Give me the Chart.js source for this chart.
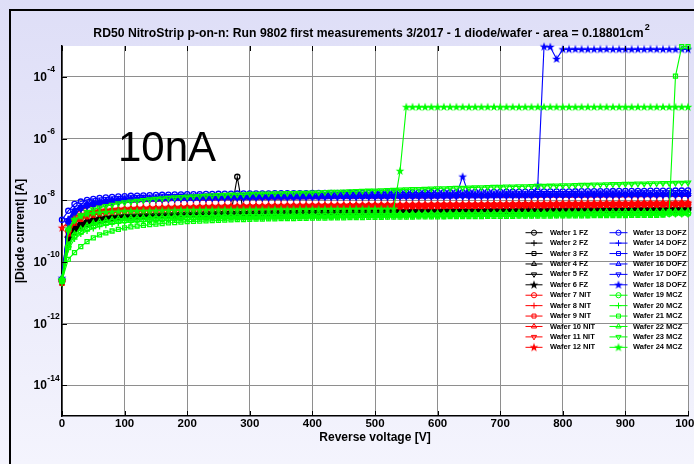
<!DOCTYPE html>
<html><head><meta charset="utf-8">
<script src="https://cdn.jsdelivr.net/npm/chart.js@4.4.1/dist/chart.umd.min.js"></script>
<style>html,body{margin:0;padding:0;background:#ececfa;}canvas{display:block}</style>
</head><body>
<canvas id="c" width="694" height="464"></canvas>
<script>
// ---------- DATA (currents in nA) ----------
const voltages = [0,10,20,30,40,50,60,70,80,90,100,110,120,130,140,150,160,170,180,190,200,210,220,230,240,250,260,270,280,290,300,310,320,330,340,350,360,370,380,390,400,410,420,430,440,450,460,470,480,490,500,510,520,530,540,550,560,570,580,590,600,610,620,630,640,650,660,670,680,690,700,710,720,730,740,750,760,770,780,790,800,810,820,830,840,850,860,870,880,890,900,910,920,930,940,950,960,970,980,990,1000];

const waferLabels = ['Wafer 1 FZ','Wafer 2 FZ','Wafer 3 FZ','Wafer 4 FZ','Wafer 5 FZ','Wafer 6 FZ',
  'Wafer 7 NIT','Wafer 8 NIT','Wafer 9 NIT','Wafer 10 NIT','Wafer 11 NIT','Wafer 12 NIT',
  'Wafer 13 DOFZ','Wafer 14 DOFZ','Wafer 15 DOFZ','Wafer 16 DOFZ','Wafer 17 DOFZ','Wafer 18 DOFZ',
  'Wafer 19 MCZ','Wafer 20 MCZ','Wafer 21 MCZ','Wafer 22 MCZ','Wafer 23 MCZ','Wafer 24 MCZ'];
const groupColors = ['#000000','#ff0000','#0000ff','#00ff00'];
const markerKinds = ['circle','plus','square','triangle','downtriangle','star'];

const wafer1 = [0.025,0.6,1.2,1.6,1.9,2.2,2.4,2.6,2.7,2.85,
3.0,3.05,3.1,3.2,3.25,3.3,3.35,3.4,3.45,3.5,
3.6,3.6,3.65,3.7,3.7,3.75,3.8,3.8,57,3.85,
3.9,3.9,3.95,4.0,4.0,4.0,4.05,4.1,4.1,4.1,
4.15,4.15,4.2,4.2,4.2,4.25,4.25,4.3,4.3,4.3,
4.3,4.35,4.35,4.4,4.4,4.4,4.45,4.45,4.5,4.5,
4.5,4.5,4.55,4.55,4.6,4.6,4.6,4.6,4.65,4.65,
4.6,4.7,4.7,4.7,4.75,4.75,4.8,4.8,4.8,4.8,
4.85,4.85,4.85,4.9,4.9,4.9,4.9,4.95,4.95,4.95,
4.95,5.0,5.0,5.0,5.0,5.05,5.05,5.05,5.1,5.1,
5.1];
const wafer2 = [0.02,0.5,1.0,1.4,1.7,2.0,2.2,2.4,2.5,2.65,
2.8,2.85,2.9,3.0,3.05,3.1,3.15,3.2,3.25,3.3,
3.4,3.4,3.45,3.5,3.5,3.55,3.6,3.6,3.65,3.65,
3.7,3.7,3.75,3.8,3.8,3.8,3.85,3.9,3.9,3.9,
3.95,3.95,4.0,4.0,4.0,4.05,4.05,4.1,4.1,4.1,
4.1,4.15,4.15,4.2,4.2,4.2,4.25,4.25,4.3,4.3,
4.3,4.3,4.35,4.35,4.4,4.4,4.4,4.4,4.45,4.45,
4.4,4.5,4.5,4.5,8.3,4.55,4.6,4.6,4.6,4.6,
4.65,4.65,4.65,4.7,4.7,4.7,4.7,4.75,4.75,4.75,
4.75,4.8,4.8,4.8,4.8,4.8,4.85,4.85,4.85,4.9,
4.9];
const wafer3 = [0.022,0.45,0.9,1.3,1.6,1.8,2.0,2.2,2.35,2.5,
2.6,2.65,2.7,2.8,2.85,2.9,2.95,3.0,3.05,3.1,
3.2,3.2,3.25,3.3,3.3,3.35,3.4,3.4,3.45,3.45,
3.5,3.5,3.55,3.6,3.6,3.6,3.65,3.7,3.7,3.7,
3.75,3.75,3.8,3.8,3.8,3.85,3.85,3.9,3.9,3.9,
3.9,3.95,3.95,4.0,4.0,4.0,4.05,4.05,4.1,4.1,
4.1,4.1,4.15,4.15,4.2,4.2,4.2,4.2,4.25,4.25,
4.2,4.3,4.3,4.3,4.35,4.35,4.4,4.4,4.4,4.4,
4.45,4.45,4.45,4.5,4.5,4.5,4.5,4.55,4.55,4.55,
4.55,4.6,4.6,4.6,4.6,4.6,4.65,4.65,4.65,4.7,
4.7];
const wafer4 = [0.03,0.7,1.4,1.9,2.2,2.5,2.7,2.9,3.05,3.2,
3.3,3.35,3.4,3.5,3.55,3.6,3.65,3.7,3.75,3.8,
3.9,3.9,3.95,4.0,4.0,4.05,4.1,4.1,4.15,4.15,
4.2,4.2,4.25,4.3,4.3,4.3,4.35,4.4,4.4,4.4,
4.45,4.45,4.5,4.5,4.5,4.55,4.55,4.6,4.6,4.6,
4.6,4.65,4.65,4.7,4.7,4.75,4.75,4.8,4.8,4.85,
4.85,4.85,4.9,4.9,4.9,4.95,4.95,5.0,5.0,5.0,
5.0,5.05,5.05,5.1,5.1,5.1,5.15,5.15,5.2,5.2,
5.2,5.2,5.25,5.25,5.3,5.3,5.3,5.3,5.35,5.35,
5.35,5.4,5.4,5.4,5.4,5.45,5.45,5.45,5.5,5.5,
5.5];
const wafer5 = [0.02,0.55,1.1,1.5,1.8,2.1,2.3,2.5,2.65,2.8,
2.9,2.95,3.0,3.1,3.15,3.2,3.25,3.3,3.35,3.4,
3.5,3.5,3.55,3.6,3.6,3.65,3.7,3.7,3.75,3.75,
3.8,3.8,3.85,3.9,3.9,3.9,3.95,4.0,4.0,4.0,
4.05,4.05,4.1,4.1,4.1,4.15,4.15,4.2,4.2,4.2,
4.2,4.25,4.25,4.3,4.3,4.3,4.35,4.35,4.4,4.4,
4.4,4.4,4.45,4.45,4.5,4.5,4.5,4.5,4.55,4.55,
4.5,4.6,4.6,4.6,4.65,4.65,4.7,4.7,4.7,4.7,
4.75,4.75,4.75,4.8,4.8,4.8,4.8,4.85,4.85,4.85,
4.85,4.9,4.9,4.9,4.9,4.9,4.95,4.95,4.95,5.0,
5.0];
const wafer6 = [0.025,0.6,1.3,1.7,2.1,2.4,2.6,2.75,2.9,3.0,
3.1,3.15,3.2,3.3,3.35,3.4,3.45,3.5,3.55,3.6,
3.7,3.7,3.75,3.8,3.8,3.85,3.9,3.9,3.95,3.95,
4.0,4.0,4.05,4.1,4.1,4.1,4.15,4.2,4.2,4.2,
4.25,4.25,4.3,4.3,4.3,4.35,4.35,4.4,4.4,4.4,
4.4,4.45,4.45,4.5,4.5,4.55,4.55,4.6,4.6,4.65,
4.65,4.65,4.7,4.7,4.7,4.75,4.75,4.8,4.8,4.8,
4.8,4.85,4.85,4.9,4.9,4.9,4.95,4.95,5.0,5.0,
5.0,5.0,5.05,5.05,5.1,5.1,5.1,5.1,5.15,5.15,
5.15,5.2,5.2,5.2,5.2,5.25,5.25,5.25,5.3,5.3,
5.3];
const wafer7 = [0.025,1.0,2.2,2.8,3.4,3.8,4.1,4.3,4.5,4.65,
4.8,4.9,5.0,5.1,5.15,5.2,5.3,5.35,5.4,5.5,
5.6,5.6,5.65,5.7,5.75,5.8,5.85,5.9,5.9,5.95,
6.0,6.0,6.05,6.1,6.1,6.15,6.2,6.2,6.25,6.25,
6.3,6.3,6.35,6.35,6.4,6.4,6.45,6.5,6.5,6.55,
6.6,6.6,6.6,6.65,6.65,6.7,6.7,6.75,6.75,6.8,
6.8,6.8,6.85,6.85,6.9,6.9,6.9,6.95,6.95,7.0,
7.0,7.0,7.05,7.05,7.1,7.1,7.1,7.15,7.15,7.2,
7.2,7.2,7.25,7.25,7.3,7.3,7.3,7.35,7.35,7.4,
7.4,7.4,7.45,7.45,7.5,7.5,7.5,7.55,7.55,7.6,
7.6];
const wafer8 = [0.03,1.5,3.5,4.8,5.8,6.5,7.1,7.6,8.0,8.3,
8.5,8.7,8.9,9.1,9.3,9.4,9.5,9.7,9.8,9.9,
10.0,10.1,10.2,10.2,10.3,10.4,10.5,10.5,10.6,10.7,
10.8,10.8,10.9,10.9,11.0,11.0,11.1,11.1,11.2,11.2,
11.3,11.3,11.4,11.4,11.5,11.5,11.6,11.6,11.7,11.7,
11.8,11.8,11.8,11.9,11.9,12.0,12.0,12.0,12.1,12.1,
12.1,12.2,12.2,12.2,12.3,12.3,12.3,12.3,12.4,12.4,
12.4,12.5,12.5,12.5,12.6,12.6,12.6,12.7,12.7,12.7,
12.8,12.8,12.8,12.8,12.9,12.9,12.9,13.0,13.0,13.0,
13.0,13.0,13.1,13.1,13.1,13.1,13.2,13.2,13.2,13.2,
13.3];
const wafer9 = [0.02,0.8,1.8,2.4,2.9,3.3,3.6,3.85,4.0,4.15,
4.3,4.4,4.5,4.55,4.6,4.7,4.75,4.85,4.9,5.0,
5.1,5.1,5.15,5.2,5.25,5.3,5.35,5.4,5.4,5.45,
5.5,5.5,5.55,5.6,5.6,5.65,5.7,5.7,5.75,5.75,
5.8,5.8,5.85,5.85,5.9,5.9,5.95,5.95,6.0,6.0,
6.0,6.05,6.05,6.1,6.1,6.1,6.15,6.15,6.2,6.2,
6.2,6.25,6.25,6.3,6.3,6.3,6.35,6.35,6.4,6.4,
6.4,6.45,6.45,6.5,6.5,6.5,6.55,6.55,6.6,6.6,
6.6,6.65,6.65,6.7,6.7,6.7,6.75,6.75,6.8,6.8,
6.8,6.85,6.85,6.9,6.9,6.9,6.95,6.95,7.0,7.0,
7.0];
const wafer10 = [0.025,1.1,2.4,3.0,3.6,4.0,4.3,4.5,4.7,4.85,
5.0,5.1,5.2,5.3,5.35,5.4,5.5,5.55,5.6,5.7,
5.8,5.8,5.85,5.9,5.95,6.0,6.1,6.1,6.15,6.2,
6.3,6.3,6.35,6.4,6.4,6.45,6.5,6.5,6.55,6.55,
6.6,6.6,6.65,6.7,6.7,6.75,6.75,6.8,6.8,6.85,
6.9,6.9,6.9,6.95,6.95,7.0,7.0,7.05,7.05,7.1,
7.1,7.1,7.15,7.15,7.2,7.2,7.2,7.25,7.25,7.3,
7.3,7.35,7.35,7.4,7.4,7.45,7.45,7.5,7.5,7.55,
7.55,7.6,7.6,7.65,7.65,7.7,7.7,7.7,7.75,7.75,
7.8,7.8,7.85,7.85,7.9,7.9,7.9,7.95,7.95,8.0,
8.0];
const wafer11 = [0.022,0.9,2.0,2.6,3.1,3.5,3.8,4.05,4.2,4.35,
4.5,4.6,4.7,4.75,4.8,4.9,4.95,5.05,5.1,5.2,
5.3,5.3,5.35,5.4,5.45,5.5,5.55,5.6,5.6,5.65,
5.7,5.7,5.75,5.8,5.8,5.85,5.9,5.9,5.95,5.95,
6.0,6.0,6.05,6.1,6.1,6.15,6.15,6.2,6.2,6.25,
6.3,6.3,6.3,6.35,6.35,6.4,6.4,6.45,6.45,6.5,
6.5,6.5,6.55,6.55,6.6,6.6,6.6,6.65,6.65,6.7,
6.7,6.75,6.75,6.8,6.8,6.85,6.85,6.9,6.9,6.9,
6.95,6.95,7.0,7.0,7.05,7.05,7.1,7.1,7.1,7.15,
7.15,7.2,7.2,7.2,7.25,7.25,7.25,7.3,7.3,7.3,
7.3];
const wafer12 = [1.27,2.0,3.0,3.5,4.0,4.4,4.7,4.9,5.05,5.2,
5.3,5.4,5.5,5.6,5.65,5.7,5.8,5.85,5.9,6.0,
6.1,6.1,6.15,6.2,6.25,6.3,6.35,6.4,6.4,6.45,
6.5,6.5,6.55,6.6,6.6,6.65,6.7,6.7,6.75,6.8,
6.8,6.85,6.85,6.9,6.9,6.95,7.0,7.0,7.05,7.05,
7.1,7.1,7.15,7.15,7.2,7.2,7.25,7.3,7.3,7.35,
7.35,7.4,7.4,7.45,7.45,7.5,7.5,7.5,7.55,7.55,
7.6,7.6,7.65,7.65,7.7,7.7,7.75,7.75,7.8,7.8,
7.85,7.85,7.9,7.9,7.95,7.95,8.0,8.0,8.0,8.05,
8.05,8.1,8.1,8.15,8.15,8.2,8.2,8.2,8.25,8.25,
8.3];
const wafer13 = [2.3,4.5,7.5,9.0,10.2,11.0,11.7,12.2,12.7,13.1,
13.5,13.8,14.0,14.3,14.5,14.7,14.9,15.1,15.2,15.4,
15.5,15.6,15.7,15.8,15.9,16.0,16.1,16.2,16.3,16.4,
16.5,16.5,16.6,16.6,16.7,16.7,16.8,16.8,16.9,16.9,
17.0,17.0,17.1,17.1,17.2,17.2,17.3,17.3,17.4,17.4,
17.5,17.5,17.6,17.6,17.7,17.7,17.8,17.8,17.9,17.9,
18.0,18.0,18.1,18.1,18.2,18.2,18.3,18.3,18.4,18.4,
18.5,18.6,18.6,18.7,18.8,18.8,18.9,19.0,19.0,19.1,
19.2,19.2,19.3,19.4,19.4,19.5,19.6,19.6,19.7,19.8,
19.8,19.9,20.0,20.0,20.1,20.2,20.2,20.3,20.4,20.4,
20.5];
const wafer14 = [0.03,2.5,5.0,6.5,7.7,8.5,9.2,9.8,10.3,10.7,
11.0,11.2,11.4,11.6,11.8,12.0,12.2,12.4,12.5,12.7,
12.8,12.9,13.0,13.0,13.1,13.2,13.3,13.4,13.4,13.5,
13.6,13.6,13.7,13.7,13.8,13.8,13.9,13.9,14.0,14.0,
14.0,14.1,14.1,14.2,14.2,14.3,14.3,14.4,14.4,14.4,
14.5,14.5,14.6,14.6,14.7,14.7,14.8,14.8,14.9,14.9,
14.9,15.0,15.0,15.1,15.1,15.1,15.2,15.2,15.2,15.3,
15.3,15.4,15.4,15.5,15.5,15.6,15.6,15.7,15.7,15.8,
15.8,15.8,15.9,15.9,16.0,16.0,16.0,16.1,16.1,16.2,
16.2,16.2,16.3,16.3,16.3,16.4,16.4,16.4,16.5,16.5,
16.5];
const wafer15 = [0.025,2.0,4.2,5.6,6.7,7.5,8.2,8.8,9.3,9.7,
10.0,10.2,10.4,10.6,10.8,11.0,11.2,11.4,11.5,11.7,
11.8,11.9,12.0,12.0,12.1,12.2,12.3,12.4,12.4,12.5,
12.6,12.6,12.7,12.7,12.8,12.8,12.9,12.9,13.0,13.0,
13.0,13.1,13.1,13.2,13.2,13.3,13.3,13.4,13.4,13.4,
13.5,13.5,13.6,13.6,13.6,13.7,13.7,13.8,13.8,13.8,
13.9,13.9,13.9,14.0,14.0,14.0,14.1,14.1,14.1,14.2,
14.2,14.3,14.3,14.3,14.4,14.4,14.5,14.5,14.5,14.6,
14.6,14.7,14.7,14.7,14.8,14.8,14.8,14.9,14.9,14.9,
15.0,15.0,15.0,15.1,15.1,15.1,15.2,15.2,15.2,15.3,
15.3];
const wafer16 = [0.03,2.2,4.6,6.0,7.2,8.0,8.7,9.3,9.8,10.2,
10.5,10.7,10.9,11.1,11.3,11.5,11.7,11.9,12.0,12.2,
12.3,12.4,12.4,12.5,12.6,12.6,12.7,12.8,12.8,12.9,
13.0,13.0,13.1,13.1,13.2,13.2,13.3,13.3,13.4,13.4,
13.5,13.5,13.6,13.6,13.7,13.7,13.8,13.8,13.9,13.9,
14.0,14.0,14.1,14.1,14.1,14.2,14.2,14.3,14.3,14.3,
14.4,14.4,14.4,14.5,14.5,14.6,14.6,14.6,14.7,14.7,
14.8,14.8,14.9,14.9,15.0,15.0,15.0,15.1,15.1,15.2,
15.2,15.2,15.3,15.3,15.4,15.4,15.4,15.5,15.5,15.5,
15.6,15.6,15.6,15.7,15.7,15.8,15.8,15.8,15.9,15.9,
16.0];
const wafer17 = [0.025,1.8,3.8,5.1,6.2,7.0,7.7,8.3,8.8,9.2,
9.5,9.7,9.9,10.1,10.3,10.5,10.6,10.8,10.9,11.1,
11.2,11.3,11.3,11.4,11.5,11.5,11.6,11.7,11.8,11.9,
12.0,12.0,12.1,12.1,12.2,12.2,12.3,12.3,12.3,12.4,
12.4,12.4,12.5,12.5,12.5,12.6,12.6,12.6,12.7,12.7,
12.8,12.8,12.8,12.9,12.9,13.0,13.0,13.0,13.1,13.1,
13.2,13.2,13.2,13.3,13.3,13.3,13.4,13.4,13.5,13.5,
13.6,13.6,13.6,13.7,13.7,13.8,13.8,13.8,13.9,13.9,
14.0,14.0,14.0,14.1,14.1,14.1,14.2,14.2,14.2,14.3,
14.3,14.3,14.4,14.4,14.4,14.4,14.5,14.5,14.5,14.5,
14.6];
const wafer18 = [0.03,2.3,4.8,6.2,7.4,8.2,8.9,9.5,10.0,10.4,
10.8,11.0,11.2,11.4,11.6,11.8,12.0,12.1,12.3,12.4,
12.5,12.6,12.7,12.7,12.8,12.9,13.0,13.0,13.1,13.2,
13.3,13.3,13.4,13.4,13.5,13.5,13.6,13.6,13.7,13.7,
13.8,13.8,13.8,13.9,13.9,14.0,14.0,14.0,14.1,14.1,
14.2,14.2,14.2,14.3,14.3,14.3,14.4,14.4,14.4,14.5,
14.5,14.5,14.6,14.6,58,14.6,14.7,14.7,14.7,14.8,
14.8,14.8,14.9,14.9,14.9,15.0,30,950000,930000,380000,
780000,780000,785000,780000,775000,780000,780000,785000,780000,780000,
780000,775000,780000,780000,785000,780000,780000,780000,775000,780000,
780000];
const wafer19 = [0.025,0.3,0.7,0.95,1.25,1.5,1.7,1.85,2.0,2.1,
2.2,2.25,2.3,2.35,2.4,2.45,2.5,2.55,2.6,2.65,
2.7,2.7,2.72,2.75,2.78,2.8,2.82,2.85,2.87,2.88,
2.9,2.9,2.92,2.94,2.95,2.97,2.98,3.0,3.0,3.02,
3.04,3.05,3.07,3.08,3.1,3.12,3.13,3.15,3.17,3.18,
3.2,3.2,3.22,3.23,3.25,3.26,3.27,3.28,3.3,3.3,
3.31,3.32,3.33,3.34,3.35,3.36,3.37,3.38,3.39,3.4,
3.4,3.41,3.42,3.43,3.44,3.45,3.46,3.47,3.48,3.49,
3.5,3.5,3.51,3.52,3.53,3.54,3.55,3.56,3.57,3.58,
3.59,3.6,3.61,3.62,3.63,3.64,3.65,3.66,3.67,3.68,
3.7];
const wafer20 = [0.02,0.25,0.55,0.8,1.0,1.2,1.4,1.55,1.7,1.8,
1.9,1.95,2.0,2.05,2.1,2.15,2.2,2.25,2.3,2.35,
2.4,2.4,2.45,2.45,2.5,2.5,2.55,2.55,2.6,2.6,
2.6,2.6,2.65,2.65,2.7,2.7,2.7,2.75,2.75,2.75,
2.8,2.8,2.8,2.8,2.85,2.85,2.85,2.85,2.9,2.9,
2.9,2.9,2.9,2.95,2.95,2.95,2.95,3.0,3.0,3.0,
3.0,3.0,3.05,3.05,3.05,3.05,3.1,3.1,3.1,3.1,
3.1,3.1,3.15,3.15,3.15,3.15,3.2,3.2,3.2,3.2,
3.2,3.25,3.25,3.25,3.25,3.3,3.3,3.3,3.3,3.3,
3.35,3.35,3.35,3.35,3.35,3.4,3.4,3.4,3.4,3.4,
3.4];
const wafer21 = [0.025,0.12,0.2,0.31,0.45,0.6,0.75,0.87,1.0,1.12,
1.26,1.35,1.45,1.52,1.6,1.67,1.75,1.82,1.88,1.94,
2.0,2.05,2.08,2.12,2.16,2.2,2.24,2.28,2.32,2.36,
2.4,2.42,2.44,2.46,2.48,2.5,2.52,2.54,2.56,2.58,
2.6,2.62,2.63,2.65,2.67,2.68,2.7,2.72,2.74,2.76,
2.78,2.79,2.8,2.81,2.82,2.83,2.84,2.85,2.86,2.87,
2.88,2.89,2.9,2.91,2.92,2.93,2.94,2.95,2.96,2.97,
2.98,2.99,3.0,3.01,3.02,3.03,3.04,3.05,3.06,3.07,
3.08,3.09,3.1,3.11,3.12,3.13,3.14,3.15,3.16,3.17,
3.18,3.19,3.2,3.21,3.22,3.23,3.3,4.2,105000,960000,
960000];
const wafer22 = [0.03,0.35,0.8,1.15,1.5,1.8,2.0,2.2,2.35,2.5,
2.6,2.65,2.7,2.75,2.8,2.85,2.9,2.95,3.0,3.05,
3.1,3.1,3.15,3.15,3.2,3.2,3.25,3.25,3.3,3.35,
3.4,3.4,3.4,3.45,3.45,3.45,3.5,3.5,3.5,3.5,
3.5,3.55,3.55,3.55,3.55,3.6,3.6,3.6,3.6,3.6,
3.6,3.65,3.65,3.65,3.7,3.7,3.7,3.7,3.75,3.75,
3.75,3.75,3.8,3.8,3.8,3.8,3.85,3.85,3.85,3.85,
3.9,3.9,3.95,3.95,3.95,4.0,4.0,4.0,4.05,4.05,
4.05,4.1,4.1,4.1,4.15,4.15,4.15,4.2,4.2,4.2,
4.25,4.25,4.25,4.3,4.3,4.3,4.35,4.35,4.35,4.4,
4.4];
const wafer23 = [0.025,1.0,2.2,3.2,4.2,5.0,5.7,6.4,7.0,7.8,
8.5,9.0,9.5,10.0,10.5,11.0,11.4,11.8,12.2,12.6,
13.0,13.3,13.6,13.9,14.2,14.5,14.8,15.0,15.2,15.4,
16.0,16.1,16.3,16.4,16.6,16.7,16.9,17.0,17.2,17.3,
17.5,17.8,18.1,18.4,18.7,19.0,19.3,19.6,19.9,20.2,
20.5,20.8,21.2,21.5,21.9,22.2,22.6,22.9,23.3,23.6,
24.0,24.3,24.6,24.9,25.2,25.5,25.8,26.1,26.4,26.7,
27.0,27.3,27.6,27.9,28.2,28.5,28.8,29.1,29.4,29.7,
30.0,30.3,30.7,31.0,31.4,31.7,32.1,32.4,32.8,33.1,
33.5,33.8,34.2,34.5,34.9,35.2,35.6,35.9,36.3,36.6,
37.0];
const wafer24 = [0.025,1.2,2.4,3.0,3.5,3.8,4.0,4.1,4.2,4.3,
4.4,4.4,4.45,4.5,4.5,4.55,4.6,4.6,4.65,4.7,
4.8,4.8,4.8,4.85,4.85,4.9,4.9,4.9,4.95,4.95,
5.0,5.0,5.0,5.0,5.05,5.05,5.05,5.05,5.1,5.1,
5.1,5.1,5.1,5.15,5.15,5.15,5.15,5.2,5.2,5.2,
5.2,5.2,5.2,5.25,89,10500,10500,10500,10450,10500,
10500,10550,10500,10500,10500,10450,10500,10500,10500,10550,
10500,10500,10500,10450,10500,10500,10500,10500,10550,10500,
10500,10500,10450,10500,10500,10500,10550,10500,10500,10500,
10500,10450,10500,10500,10500,10500,10550,10500,10500,10500,
10500];

const waferSeries = [wafer1,wafer2,wafer3,wafer4,wafer5,wafer6,wafer7,wafer8,wafer9,wafer10,wafer11,wafer12,
  wafer13,wafer14,wafer15,wafer16,wafer17,wafer18,wafer19,wafer20,wafer21,wafer22,wafer23,wafer24];

const xTickValues = [0,100,200,300,400,500,600,700,800,900,1000];
const yTickExponents = [-14,-12,-10,-8,-6,-4];
const titleText = 'RD50 NitroStrip p-on-n: Run 9802 first measurements 3/2017 - 1 diode/wafer - area = 0.18801cm';
const titleSup = '2';
const xAxisTitle = 'Reverse voltage [V]';
const yAxisTitle = '|Diode current| [A]';
const noteText = '10nA';

// ---------- STYLE ----------
const FONT = '"Liberation Sans", Arial, Helvetica, sans-serif';
function starImage(color){
  const c = document.createElement('canvas'); c.width = 10; c.height = 10;
  const g = c.getContext('2d'); g.fillStyle = color; g.beginPath();
  for (let k = 0; k < 10; k++){ const r = k % 2 ? 1.9 : 4.6; const a = -Math.PI/2 + k*Math.PI/5;
    g.lineTo(5 + r*Math.cos(a), 5.2 + r*Math.sin(a)); }
  g.closePath(); g.fill(); return c;
}
function markerOpts(kind, color){
  switch(kind){
    case 'circle': return {pointStyle:'circle', rot:0, r:2.6};
    case 'plus': return {pointStyle:'cross', rot:0, r:3};
    case 'square': return {pointStyle:'rect', rot:0, r:2.8};
    case 'triangle': return {pointStyle:'triangle', rot:0, r:3};
    case 'downtriangle': return {pointStyle:'triangle', rot:180, r:3};
    default: return {pointStyle: starImage(color), rot:0, r:4};
  }
}

const datasets = waferSeries.map((vals, i) => {
  const color = groupColors[Math.floor(i/6)];
  const m = markerOpts(markerKinds[i%6], color);
  return {
    label: waferLabels[i],
    data: voltages.map((v, k) => ({x: v, y: vals[k]*1e-9})),
    borderColor: color, backgroundColor: color,
    borderWidth: 1.1, tension: 0,
    pointStyle: m.pointStyle, pointRotation: m.rot, pointRadius: m.r,
    pointBorderColor: color, pointBackgroundColor: 'rgba(0,0,0,0)', pointBorderWidth: 1.3,
    order: 24 - i, clip: 8
  };
});

const PLOT = {left:62, right:688, top:46, bottom:416};

const backgroundPlugin = {
  id: 'bg',
  beforeDraw(chart){
    const ctx = chart.ctx; ctx.save();
    const g = ctx.createLinearGradient(0,0,0,464);
    g.addColorStop(0,'#dedef7'); g.addColorStop(1,'#f4f4fd');
    ctx.fillStyle = g; ctx.fillRect(0,0,694,464);
    ctx.fillStyle = '#000'; ctx.fillRect(9,9,2,455); ctx.fillRect(9,9,685,2);
    const a = chart.chartArea; ctx.fillStyle = '#ffffff';
    ctx.fillRect(a.left, a.top, a.right-a.left, a.bottom-a.top);
    ctx.restore();
  }
};

const overlayPlugin = {
  id: 'overlay',
  afterDraw(chart){
    const ctx = chart.ctx, a = chart.chartArea, xs = chart.scales.x, ys = chart.scales.y;
    ctx.save();
    // inward ticks
    ctx.strokeStyle = '#000'; ctx.lineWidth = 1;
    xs.ticks.forEach(t => { const x = Math.round(xs.getPixelForValue(t.value)) + 0.5;
      ctx.beginPath(); ctx.moveTo(x, a.bottom); ctx.lineTo(x, a.bottom-5); ctx.moveTo(x, a.top); ctx.lineTo(x, a.top+5); ctx.stroke(); });
    ys.ticks.forEach(t => { const y = Math.round(ys.getPixelForValue(t.value)) + 0.5;
      ctx.beginPath(); ctx.moveTo(a.left, y); ctx.lineTo(a.left+5, y); ctx.stroke(); });
    // x tick labels
    ctx.fillStyle = '#000'; ctx.font = 'bold 11.5px ' + FONT; ctx.textAlign = 'center'; ctx.textBaseline = 'middle';
    xs.ticks.forEach(t => ctx.fillText(String(t.value), xs.getPixelForValue(t.value), 424));
    // y tick labels 10^e
    ys.ticks.forEach(t => {
      const e = Math.round(Math.log10(t.value)); const y = ys.getPixelForValue(t.value);
      ctx.textAlign = 'left'; ctx.textBaseline = 'alphabetic';
      ctx.font = 'bold 12px ' + FONT; ctx.fillText('10', 33.5, y + 4.3);
      const w = ctx.measureText('10').width;
      ctx.font = 'bold 8.5px ' + FONT; ctx.fillText(String(e), 33.5 + w + 0.5, y - 4.5);
    });
    // axis titles
    ctx.font = 'bold 12px ' + FONT; ctx.textAlign = 'center'; ctx.textBaseline = 'middle';
    ctx.fillText(xAxisTitle, (a.left + a.right)/2, 438);
    ctx.save(); ctx.translate(21, (a.top + a.bottom)/2); ctx.rotate(-Math.PI/2);
    ctx.fillText(yAxisTitle, 0, 0); ctx.restore();
    // title with superscript
    const TF = 'bold 12.2px ' + FONT, SF = 'bold 9px ' + FONT;
    ctx.font = TF; ctx.textBaseline = 'alphabetic'; ctx.textAlign = 'left';
    const tw = ctx.measureText(titleText).width;
    ctx.font = SF; const sw = ctx.measureText(titleSup).width;
    const tx = 371 - (tw + sw)/2;
    ctx.font = TF; ctx.fillText(titleText, tx, 36.5);
    ctx.font = SF; ctx.fillText(titleSup, tx + tw + 1, 30);
    // annotation
    ctx.font = '42px ' + FONT; ctx.fillText(noteText, 118, 161);
    // legend
    ctx.font = 'bold 7.5px ' + FONT; ctx.textBaseline = 'middle';
    chart.data.datasets.forEach((ds, i) => {
      const col = i < 12 ? 0 : 1, row = i % 12;
      const y = 232.7 + row * 10.42;
      const x0 = col ? 609.5 : 525.5, x1 = col ? 627.5 : 542.5, tx2 = col ? 633 : 550;
      ctx.strokeStyle = ds.borderColor; ctx.lineWidth = 1;
      ctx.beginPath(); ctx.moveTo(x0, y); ctx.lineTo(x1, y); ctx.stroke();
      ctx.fillStyle = 'rgba(0,0,0,0)';
      Chart.helpers.drawPoint(ctx, {pointStyle: ds.pointStyle, rotation: ds.pointRotation, radius: ds.pointRadius, borderWidth: 1}, (x0+x1)/2, y);
      ctx.fillStyle = '#000'; ctx.textAlign = 'left';
      ctx.fillText(ds.label, tx2, y);
    });
    ctx.restore();
  }
};

new Chart(document.getElementById('c'), {
  type: 'line',
  data: { datasets },
  options: {
    responsive: false, animation: false, devicePixelRatio: 1,
    layout: { padding: { top: PLOT.top, right: 694 - PLOT.right, left: 0, bottom: 0 } },
    plugins: { legend: {display:false}, title: {display:false}, tooltip: {enabled:false} },
    scales: {
      x: { type: 'linear', min: 0, max: 1000,
        afterBuildTicks: s => { s.ticks = xTickValues.map(v => ({value: v})); },
        afterFit: s => { s.height = 464 - PLOT.bottom; },
        ticks: { display: false },
        grid: { color: '#8e8e8e', lineWidth: 1, drawTicks: false },
        border: { display: true, color: '#000', width: 1.5 } },
      y: { type: 'logarithmic', min: 1e-15, max: 1e-3,
        afterBuildTicks: s => { s.ticks = yTickExponents.map(e => ({value: Math.pow(10, e)})); },
        afterFit: s => { s.width = PLOT.left; },
        ticks: { display: false },
        grid: { color: '#8e8e8e', lineWidth: 1, drawTicks: false },
        border: { display: true, color: '#000', width: 1.5 } }
    }
  },
  plugins: [backgroundPlugin, overlayPlugin]
});
</script>
</body></html>
